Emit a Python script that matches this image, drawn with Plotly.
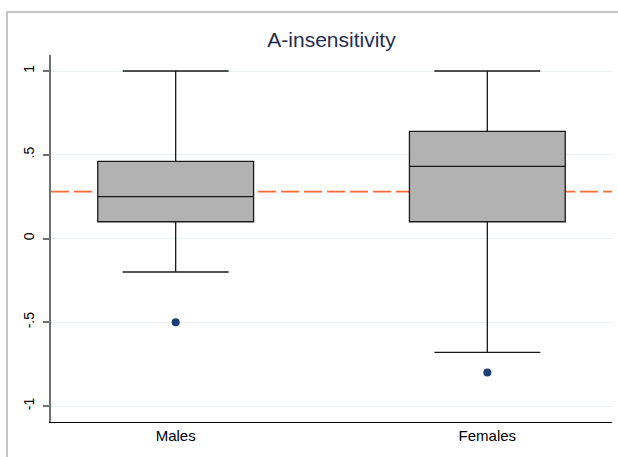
import plotly.graph_objects as go

# ---- data ----
groups = ["Males", "Females"]
q1 = [0.10, 0.10]
median = [0.25, 0.43]
q3 = [0.46, 0.64]
lower_whisker = [-0.20, -0.68]
upper_whisker = [1.0, 1.0]
outlier_group = ["Males", "Females"]
outlier_value = [-0.50, -0.80]
ref_line = 0.28

y_tickvals = [1, 0.5, 0, -0.5, -1]
y_ticktext = ["1", ".5", "0", "-.5", "-1"]

title_text = "A-insensitivity"

FONT = "Liberation Sans, Arial, Helvetica, sans-serif"

W, H = 618, 457
PL, PR, PT, PB = 51, 612, 55, 422  # plot area in pixels

fig = go.Figure()

# outer gray frame (cropped at right and bottom), drawn on a full-figure pixel axis pair
fig.add_trace(go.Scatter(
    x=[7, 7, W + 20], y=[-20, H - 12, H - 12],
    xaxis="x2", yaxis="y2", mode="lines",
    line=dict(color="#C4C4C4", width=2),
    cliponaxis=False, showlegend=False, hoverinfo="skip",
))

for i, g in enumerate(groups):
    fig.add_trace(go.Box(
        x=[i],
        q1=[q1[i]], median=[median[i]], q3=[q3[i]],
        lowerfence=[lower_whisker[i]], upperfence=[upper_whisker[i]],
        width=0.5,
        whiskerwidth=0.68,
        fillcolor="#B2B2B2",
        line=dict(color="#1a1a1a", width=1.3),
        boxpoints=False,
        showlegend=False,
        hoverinfo="skip",
        xaxis="x", yaxis="y",
    ))

fig.add_trace(go.Scatter(
    x=[groups.index(g) for g in outlier_group],
    y=outlier_value,
    mode="markers",
    marker=dict(color="#1A3F77", size=8),
    showlegend=False,
    xaxis="x", yaxis="y",
))

fig.add_shape(type="line", xref="x domain", yref="y", x0=0, x1=1, y0=ref_line, y1=ref_line,
              line=dict(color="#FF6A33", width=1.6, dash="18px,5px"), layer="below")

fig.update_layout(
    width=W, height=H,
    margin=dict(l=0, r=0, t=0, b=0, autoexpand=False),
    paper_bgcolor="white", plot_bgcolor="rgba(0,0,0,0)",
    font=dict(family=FONT, size=15, color="black"),
    title=dict(text=title_text, x=(331.5 / W), xanchor="center",
               y=1 - 40 / H, yanchor="middle", yref="container",
               font=dict(size=21, color="#1f2d4f", family=FONT)),
    boxmode="overlay",
    xaxis=dict(
        domain=[PL / W, PR / W], anchor="y",
        range=[-0.4, 1.4],
        tickvals=[0, 1], ticktext=groups,
        showgrid=False, zeroline=False,
        showline=True, linecolor="black", linewidth=1.2,
        ticks="", tickfont=dict(size=15, color="black"),
        automargin=False,
    ),
    yaxis=dict(
        domain=[1 - PB / H, 1 - PT / H], anchor="x",
        range=[-1.0955, 1.0955],
        tickvals=y_tickvals, ticktext=y_ticktext,
        tickangle=-90,
        showgrid=True, gridcolor="#EAF2F3", gridwidth=1,
        zeroline=False,
        showline=True, linecolor="#707070", linewidth=1.5,
        ticks="outside", ticklen=6, tickcolor="#707070", tickwidth=1.5,
        ticklabelstandoff=4,
        tickfont=dict(size=14, color="black"),
        automargin=False,
    ),
    xaxis2=dict(domain=[0, 1], range=[0, W], visible=False, anchor="y2",
                showgrid=False, zeroline=False, fixedrange=True, automargin=False),
    yaxis2=dict(domain=[0, 1], range=[0, H], visible=False, anchor="x2",
                showgrid=False, zeroline=False, fixedrange=True, automargin=False),
)

fig.write_html("out.html")
